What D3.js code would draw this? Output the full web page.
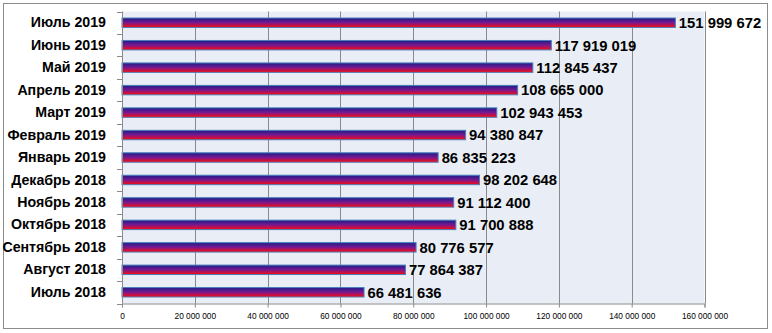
<!DOCTYPE html>
<html><head><meta charset="utf-8">
<script src="https://cdn.jsdelivr.net/npm/d3@7"></script>
<style>body{margin:0;background:#fff}svg{display:block}</style>
</head><body>
<script>
const categories = ["Июль 2019","Июнь 2019","Май 2019","Апрель 2019","Март 2019","Февраль 2019","Январь 2019","Декабрь 2018","Ноябрь 2018","Октябрь 2018","Сентябрь 2018","Август 2018","Июль 2018"];
const values = [151999672,117919019,112845437,108665000,102943453,94380847,86835223,98202648,91112400,91700888,80776577,77864387,66481636];
const tickValues = [0,20000000,40000000,60000000,80000000,100000000,120000000,140000000,160000000];

const W=772,H=333;
const m={left:122,right:704.5,top:11.5,bottom:303.5};
const loc=d3.formatLocale({decimal:",",thousands:" ",grouping:[3],currency:["",""]});
const fmt=loc.format(",");
const svg=d3.select("body").append("svg").attr("width",W).attr("height",H);
const defs=svg.append("defs");
const g=defs.append("linearGradient").attr("id","bg").attr("x1",0).attr("y1",0).attr("x2",0).attr("y2",1);
g.append("stop").attr("offset","0%").attr("stop-color","#1c1c8a");
g.append("stop").attr("offset","50%").attr("stop-color","#7a188f");
g.append("stop").attr("offset","100%").attr("stop-color","#ff0a0a");

svg.append("rect").attr("x",3.5).attr("y",3.5).attr("width",764).attr("height",325).attr("fill","#fff").attr("stroke","#8c8c8c").attr("stroke-width",1);

const x=d3.scaleLinear().domain([0,160000000]).range([m.left,m.right]);
const y=d3.scaleBand().domain(categories).range([m.top,m.bottom]).paddingInner(0.58).paddingOuter(0.29);
const yb=d3.scaleBand().domain(categories).range([m.top,m.bottom]);

svg.append("rect").attr("x",m.left).attr("y",m.top).attr("width",m.right-m.left).attr("height",m.bottom-m.top).attr("fill","#e9edf5");

// gridlines
svg.append("g").selectAll("line").data(tickValues.slice(1)).join("line")
  .attr("x1",d=>Math.round(x(d))+0.5).attr("x2",d=>Math.round(x(d))+0.5)
  .attr("y1",m.top).attr("y2",m.bottom).attr("stroke","#8a8a8a").attr("stroke-width",1);

// bars
svg.append("g").selectAll("rect").data(values).join("rect")
  .attr("x",x(0)).attr("y",(d,i)=>y(categories[i]))
  .attr("width",d=>x(d)-x(0)).attr("height",y.bandwidth())
  .attr("fill","url(#bg)").attr("stroke","#4a7ebb").attr("stroke-width",1);

// value labels
svg.append("g").selectAll("text").data(values).join("text")
  .attr("x",d=>x(d)+3.5).attr("y",(d,i)=>y(categories[i])+y.bandwidth()/2)
  .attr("dy","0.36em").attr("font-family","Liberation Sans, Arial, sans-serif")
  .attr("font-weight","bold").attr("font-size",14.8).attr("fill","#000").text(d=>fmt(d));

// y axis
const ya=svg.append("g").attr("transform",`translate(${m.left},0)`)
  .call(d3.axisLeft(yb).tickSize(0).tickPadding(16));
ya.select(".domain").remove();
ya.selectAll("text").attr("font-family","Liberation Sans, Arial, sans-serif").attr("font-weight","bold").attr("font-size",14.2).attr("fill","#000");
const bounds=categories.map(c=>yb(c)).concat([m.bottom]);
svg.append("g").selectAll("line").data(bounds).join("line")
  .attr("x1",m.left-5).attr("x2",m.left).attr("y1",d=>Math.round(d)+0.5).attr("y2",d=>Math.round(d)+0.5).attr("stroke","#8a8a8a");
svg.append("line").attr("x1",m.left+0.5).attr("x2",m.left+0.5).attr("y1",m.top).attr("y2",m.bottom).attr("stroke","#8a8a8a");

// x axis
const xa=svg.append("g").attr("transform",`translate(0,${m.bottom})`)
  .call(d3.axisBottom(x).tickValues(tickValues).tickFormat(fmt).tickSize(4).tickPadding(6));
xa.selectAll("line,path").attr("stroke","#8a8a8a");
xa.selectAll("text").attr("font-family","Liberation Sans, Arial, sans-serif").attr("font-size",8.3).attr("fill","#000");
</script>
</body></html>
